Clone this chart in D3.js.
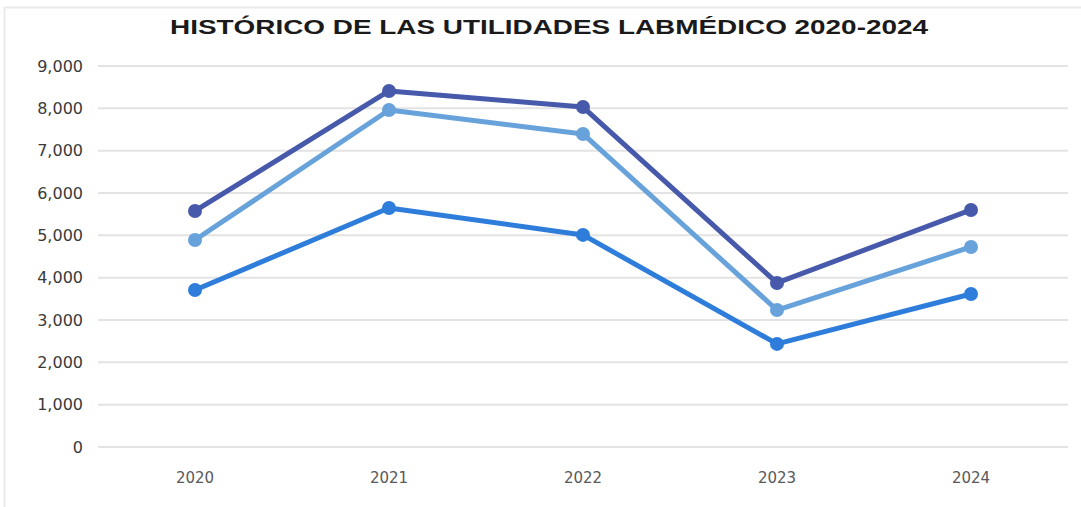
<!DOCTYPE html>
<html>
<head>
<meta charset="utf-8">
<script src="https://cdn.jsdelivr.net/npm/d3@7"></script>
<style>
  html, body { margin: 0; padding: 0; background: #fff; }
  svg { display: block; }
</style>
</head>
<body>
<div id="chart"></div>
<script>
// Datos
const years = ['2020', '2021', '2022', '2023', '2024'];
const serieOscura = [5575, 8410, 8030, 3875, 5600];
const serieClara = [4890, 7960, 7395, 3235, 4725];
const serieMedia = [3710, 5645, 5010, 2435, 3615];
const yTicks = [0, 1000, 2000, 3000, 4000, 5000, 6000, 7000, 8000, 9000];

const series = [
  { name: 'oscura', values: serieOscura, color: '#4659aa' },
  { name: 'clara', values: serieClara, color: '#67a2da' },
  { name: 'media', values: serieMedia, color: '#2e7ddb' },
];

const width = 1081;
const height = 507;
const margin = { top: 66, right: 13, bottom: 60, left: 98 };

const svg = d3.select('#chart')
  .append('svg')
  .attr('width', width)
  .attr('height', height);

// Borde tenue del contenedor
svg.append('path')
  .attr('d', `M4.5,${height} V7.5 H${width}`)
  .attr('fill', 'none')
  .attr('stroke', '#ebebeb')
  .attr('stroke-width', 2);

// Escalas
const x = d3.scaleBand()
  .domain(years)
  .range([margin.left, width - margin.right]);

const y = d3.scaleLinear()
  .domain([0, 9000])
  .range([height - margin.bottom, margin.top]);

// Líneas de cuadrícula
svg.append('g')
  .selectAll('line')
  .data(yTicks)
  .enter()
  .append('line')
  .attr('x1', margin.left)
  .attr('x2', width - margin.right)
  .attr('y1', (d) => y(d))
  .attr('y2', (d) => y(d))
  .attr('stroke', '#e3e3e3')
  .attr('stroke-width', 2);

// Etiquetas del eje Y
svg.append('g')
  .selectAll('text')
  .data(yTicks)
  .enter()
  .append('text')
  .attr('x', 83)
  .attr('y', (d) => y(d))
  .attr('dy', '0.35em')
  .attr('text-anchor', 'end')
  .attr('font-family', 'DejaVu Sans, sans-serif')
  .attr('font-size', '16px')
  .attr('fill', '#3a3a3a')
  .text((d) => d3.format(',')(d));

// Etiquetas del eje X
svg.append('g')
  .selectAll('text')
  .data(years)
  .enter()
  .append('text')
  .attr('x', (d) => x(d) + x.bandwidth() / 2)
  .attr('y', 483)
  .attr('text-anchor', 'middle')
  .attr('font-family', 'DejaVu Sans, sans-serif')
  .attr('font-size', '15px')
  .attr('fill', '#595959')
  .text((d) => d);

// Título
svg.append('text')
  .attr('x', 549)
  .attr('y', 34)
  .attr('text-anchor', 'middle')
  .attr('font-family', 'Liberation Sans, Arial, sans-serif')
  .attr('font-weight', 'bold')
  .attr('font-size', '21px')
  .attr('fill', '#1a1a1a')
  .attr('textLength', 758)
  .attr('lengthAdjust', 'spacingAndGlyphs')
  .text('HISTÓRICO DE LAS UTILIDADES LABMÉDICO 2020-2024');

// Dibujar series
const line = d3.line()
  .x((d, i) => x(years[i]) + x.bandwidth() / 2)
  .y((d) => y(d));

series.forEach((s) => {
  const g = svg.append('g');
  g.append('path')
    .datum(s.values)
    .attr('d', line)
    .attr('fill', 'none')
    .attr('stroke', s.color)
    .attr('stroke-width', 5)
    .attr('stroke-linejoin', 'round');
  g.selectAll('circle')
    .data(s.values)
    .enter()
    .append('circle')
    .attr('cx', (d, i) => x(years[i]) + x.bandwidth() / 2)
    .attr('cy', (d) => y(d))
    .attr('r', 7)
    .attr('fill', s.color);
});
</script>
</body>
</html>
